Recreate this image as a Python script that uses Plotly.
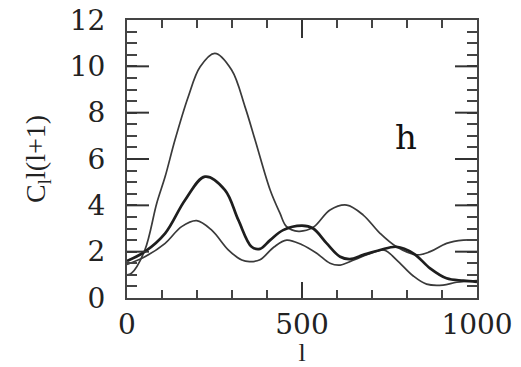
import plotly.graph_objects as go

# Curve A (thin, tall first peak)
l_a = [0, 13, 51, 85, 109, 137, 175, 209, 251, 299, 337, 366, 409, 437, 456, 490, 532, 580, 628, 675, 723, 770, 828, 866, 913, 961, 1000]
c_a = [1.0, 1.07, 2.07, 4.09, 5.24, 6.82, 8.69, 9.98, 10.56, 9.84, 8.26, 6.82, 4.66, 3.66, 3.08, 2.88, 3.05, 3.8, 4.01, 3.58, 2.79, 2.21, 1.86, 2.0, 2.36, 2.5, 2.5]

# Curve B (thick, middle)
l_b = [0, 51, 109, 166, 223, 280, 318, 356, 380, 409, 446, 500, 532, 570, 609, 637, 675, 723, 770, 818, 866, 913, 961, 1000]
c_b = [1.6, 2.0, 2.79, 4.23, 5.24, 4.66, 3.37, 2.21, 2.12, 2.5, 2.93, 3.12, 3.0, 2.37, 1.78, 1.68, 1.86, 2.07, 2.21, 1.93, 1.28, 0.85, 0.75, 0.7]

# Curve C (thin, lowest)
l_c = [0, 51, 109, 156, 199, 242, 290, 328, 350, 380, 420, 456, 500, 542, 580, 609, 650, 700, 735, 770, 818, 856, 903, 942, 1000]
c_c = [1.45, 1.78, 2.36, 3.08, 3.34, 2.93, 2.07, 1.64, 1.57, 1.65, 2.2, 2.5, 2.3, 1.93, 1.5, 1.42, 1.65, 1.95, 2.07, 1.65, 0.95, 0.6, 0.56, 0.68, 0.75]

x_ticks = [0, 500, 1000]
x_minor = [0, 100, 200, 300, 400, 500, 600, 700, 800, 900, 1000]
y_ticks = [0, 2, 4, 6, 8, 10, 12]
y_minor = [i / 2 for i in range(25)]

fig = go.Figure()
fig.add_trace(go.Scatter(x=l_a, y=c_a, mode="lines", line=dict(color="#3a3a3a", width=1.7, shape="spline", smoothing=1.0)))
fig.add_trace(go.Scatter(x=l_c, y=c_c, mode="lines", line=dict(color="#3a3a3a", width=1.7, shape="spline", smoothing=1.0)))
fig.add_trace(go.Scatter(x=l_b, y=c_b, mode="lines", line=dict(color="#1e1e1e", width=2.7, shape="spline", smoothing=1.0)))

tickfont = dict(family="DejaVu Serif", size=28, color="#222")
xr = [x_ticks[0], x_ticks[-1]]
yr = [y_ticks[0], y_ticks[-1]]

PLOT_W = 521 - 127 - 44
PLOT_H = 367 - 20 - 69
tick_line = dict(color="#333", width=2)

# long major ticks on all four sides (axis decorations, placed through the axes)
shapes = []
for v in y_ticks[1:-1]:
    shapes.append(dict(type="line", xref="x domain", yref="y", x0=0, x1=22 / PLOT_W, y0=v, y1=v, line=tick_line, layer="above"))
    shapes.append(dict(type="line", xref="x domain", yref="y", x0=1 - 22 / PLOT_W, x1=1, y0=v, y1=v, line=tick_line, layer="above"))
for v in x_ticks[1:-1]:
    shapes.append(dict(type="line", xref="x", yref="y domain", x0=v, x1=v, y0=0, y1=16 / PLOT_H, line=tick_line, layer="above"))
    shapes.append(dict(type="line", xref="x", yref="y domain", x0=v, x1=v, y0=1 - 18 / PLOT_H, y1=1, line=tick_line, layer="above"))

fig.update_layout(
    width=521, height=367,
    margin=dict(l=127, r=44, t=20, b=69, autoexpand=False),
    paper_bgcolor="white", plot_bgcolor="white",
    showlegend=False,
    xaxis=dict(
        range=xr, tickmode="array", tickvals=x_minor,
        ticktext=[str(v) if v in x_ticks else "" for v in x_minor],
        ticks="inside", ticklen=8, tickwidth=1.5, tickcolor="#444",
        showline=True, linewidth=2, linecolor="#444", mirror="ticks",
        showgrid=False, zeroline=False, tickfont=tickfont, automargin=False,
        title=dict(text="l", font=dict(family="Liberation Serif", size=26, color="#222"), standoff=2),
    ),
    yaxis=dict(
        range=yr, tickmode="array", tickvals=y_minor,
        ticktext=[(str(int(v)) + "\u2002") if v in y_ticks else "" for v in y_minor],
        ticks="inside", ticklen=10, tickwidth=1.5, tickcolor="#444",
        showline=True, linewidth=2, linecolor="#444", mirror="ticks",
        showgrid=False, zeroline=False, tickfont=tickfont, automargin=False,
        title=dict(text="C<sub>l</sub>l(l+1)", font=dict(family="Liberation Serif", size=28, color="#222"), standoff=16),
    ),
    shapes=shapes,
    annotations=[dict(x=797, y=6.95, xref="x", yref="y", text="h", showarrow=False,
                      font=dict(family="DejaVu Serif", size=34, color="#111"))],
)

fig.write_html("out.html")
